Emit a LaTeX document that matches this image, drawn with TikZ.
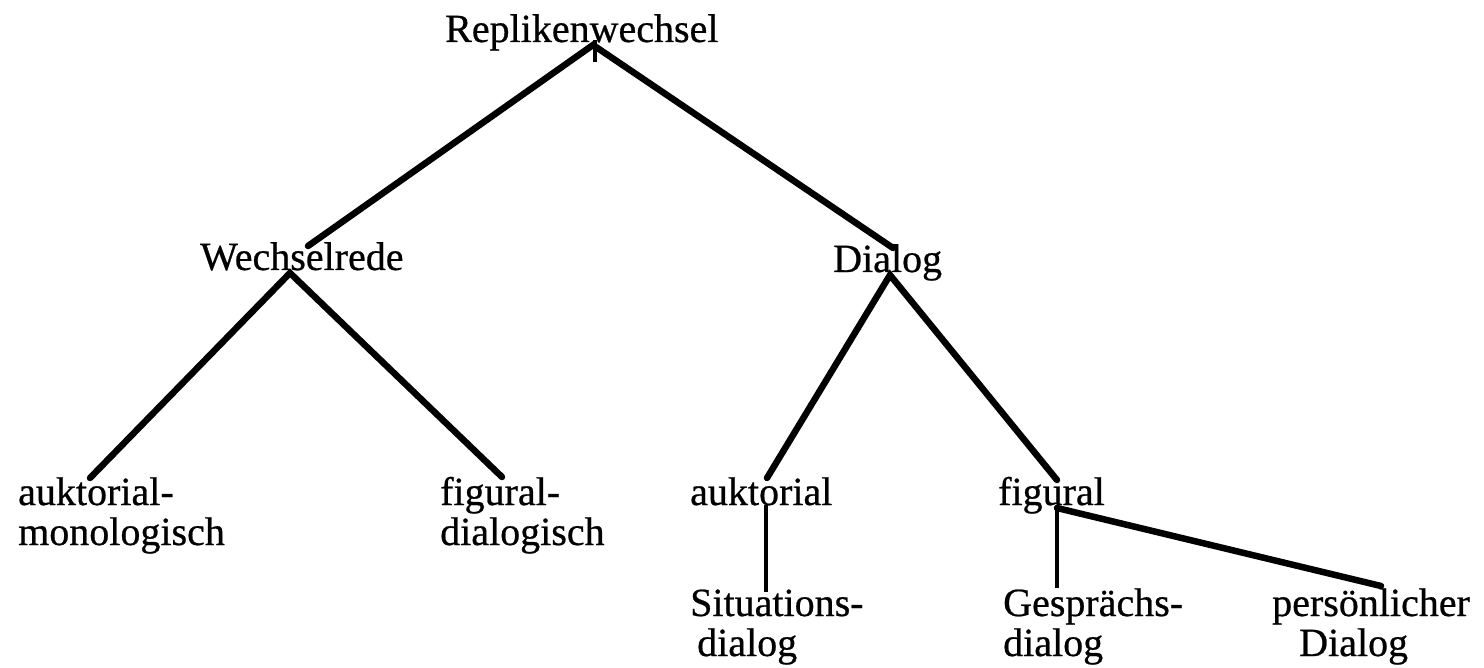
\documentclass[tikz,border=0pt]{standalone}
\usepackage{fontspec}
\setmainfont{Liberation Serif}
\newfontfamily\scanfont{Liberation Serif}[FakeBold=0.6]
\begin{document}
\begin{tikzpicture}[x=1pt,y=-1pt,
  lbl/.style={inner sep=0pt,anchor=base west,align=left,
    font=\scanfont\fontsize{40}{40}\selectfont},
  thickline/.style={line width=6.5pt,line cap=round},
  thinline/.style={line width=4pt,line cap=butt}]
\useasboundingbox (0,0) rectangle (1484,668);
% labels (base anchor = baseline of the last line)
\node[lbl] (rw) at (445,42) {Replikenwechsel};
\node[lbl] (wr) at (200,270) {Wechselrede};
\node[lbl] (dl) at (833,272) {Dialog};
\node[lbl] (am) at (18,545) {auktorial-\\monologisch};
\node[lbl] (fd) at (440,545) {figural-\\dialogisch};
\node[lbl] (au) at (690,505) {auktorial};
\node[lbl] (fi) at (998,505) {figural};
\node[lbl] (sd) at (690,656) {Situations-\\\hspace*{7pt}dialog};
\node[lbl] (gd) at (1003,656) {Gesprächs-\\dialog};
\node[lbl] (pd) at (1272,656) {persönlicher\\\hspace*{27pt}Dialog};
% junctions and line ends
\coordinate (j0) at (593,45);
\coordinate (t0a) at (595,40);
\coordinate (t0b) at (595,62);
\coordinate (wrT) at (308,246);
\coordinate (dlT) at (893,248);
\coordinate (wrB) at (290,273);
\coordinate (dlB) at (890,275);
\coordinate (amT) at (90,478);
\coordinate (fdT) at (502,477);
\coordinate (auT) at (767,478);
\coordinate (fiT) at (1057,480);
\coordinate (auB) at (766,505);
\coordinate (sdT) at (766,592);
\coordinate (fiB) at (1057,508);
\coordinate (gdT) at (1057,588);
\coordinate (pdT) at (1381,586);
% connectors
\draw[thickline] (wrT) -- (j0) -- (dlT);
\draw[thinline] (t0a) -- (t0b);
\draw[thickline] (amT) -- (wrB) -- (fdT);
\draw[thickline] (auT) -- (dlB) -- (fiT);
\draw[thinline] (auB) -- (sdT);
\draw[thinline] (fiB) -- (gdT);
\draw[thickline] (fiB) -- (pdT);
\end{tikzpicture}
\end{document}
